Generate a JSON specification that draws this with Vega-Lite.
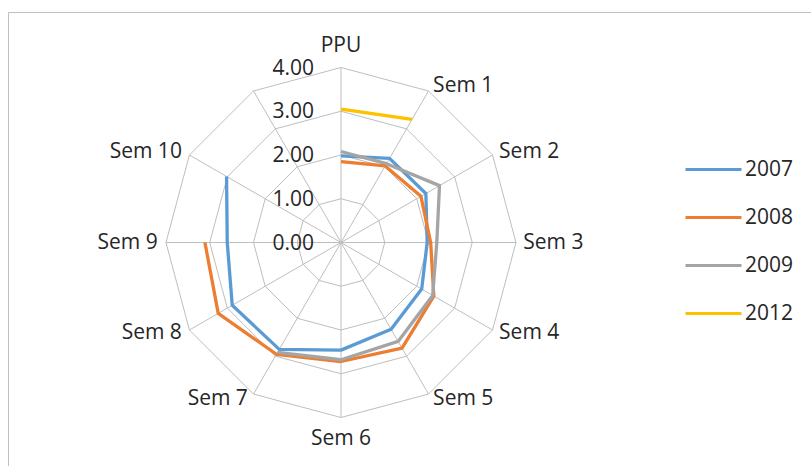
{
  "$schema": "https://vega.github.io/schema/vega-lite/v6.json",
  "width": 810,
  "height": 460,
  "autosize": "none",
  "padding": {"left": 8, "top": 12, "right": 0, "bottom": 0},
  "background": "white",
  "config": {
    "view": {"stroke": "#BFBFBF", "strokeWidth": 1},
    "font": "Open Sans"
  },
  "datasets": {
    "spokes": [
      {"i": 0, "name": "PPU"}, {"i": 1, "name": "Sem 1"}, {"i": 2, "name": "Sem 2"},
      {"i": 3, "name": "Sem 3"}, {"i": 4, "name": "Sem 4"}, {"i": 5, "name": "Sem 5"},
      {"i": 6, "name": "Sem 6"}, {"i": 7, "name": "Sem 7"}, {"i": 8, "name": "Sem 8"},
      {"i": 9, "name": "Sem 9"}, {"i": 10, "name": "Sem 10"}, {"i": 11, "name": ""}
    ],
    "rings": [
      {"level": 1, "i": 0}, {"level": 1, "i": 1}, {"level": 1, "i": 2}, {"level": 1, "i": 3},
      {"level": 1, "i": 4}, {"level": 1, "i": 5}, {"level": 1, "i": 6}, {"level": 1, "i": 7},
      {"level": 1, "i": 8}, {"level": 1, "i": 9}, {"level": 1, "i": 10}, {"level": 1, "i": 11},
      {"level": 2, "i": 0}, {"level": 2, "i": 1}, {"level": 2, "i": 2}, {"level": 2, "i": 3},
      {"level": 2, "i": 4}, {"level": 2, "i": 5}, {"level": 2, "i": 6}, {"level": 2, "i": 7},
      {"level": 2, "i": 8}, {"level": 2, "i": 9}, {"level": 2, "i": 10}, {"level": 2, "i": 11},
      {"level": 3, "i": 0}, {"level": 3, "i": 1}, {"level": 3, "i": 2}, {"level": 3, "i": 3},
      {"level": 3, "i": 4}, {"level": 3, "i": 5}, {"level": 3, "i": 6}, {"level": 3, "i": 7},
      {"level": 3, "i": 8}, {"level": 3, "i": 9}, {"level": 3, "i": 10}, {"level": 3, "i": 11},
      {"level": 4, "i": 0}, {"level": 4, "i": 1}, {"level": 4, "i": 2}, {"level": 4, "i": 3},
      {"level": 4, "i": 4}, {"level": 4, "i": 5}, {"level": 4, "i": 6}, {"level": 4, "i": 7},
      {"level": 4, "i": 8}, {"level": 4, "i": 9}, {"level": 4, "i": 10}, {"level": 4, "i": 11}
    ],
    "ticks": [{"level": 0}, {"level": 1}, {"level": 2}, {"level": 3}, {"level": 4}],
    "scores": [
      {"year": "2007", "i": 0, "value": 1.98},
      {"year": "2007", "i": 1, "value": 2.22},
      {"year": "2007", "i": 2, "value": 2.24},
      {"year": "2007", "i": 3, "value": 1.97},
      {"year": "2007", "i": 4, "value": 2.13},
      {"year": "2007", "i": 5, "value": 2.29},
      {"year": "2007", "i": 6, "value": 2.46},
      {"year": "2007", "i": 7, "value": 2.82},
      {"year": "2007", "i": 8, "value": 2.87},
      {"year": "2007", "i": 9, "value": 2.6},
      {"year": "2007", "i": 10, "value": 3.02},
      {"year": "2008", "i": 0, "value": 1.85},
      {"year": "2008", "i": 1, "value": 2.02},
      {"year": "2008", "i": 2, "value": 2.11},
      {"year": "2008", "i": 3, "value": 2.05},
      {"year": "2008", "i": 4, "value": 2.45},
      {"year": "2008", "i": 5, "value": 2.79},
      {"year": "2008", "i": 6, "value": 2.72},
      {"year": "2008", "i": 7, "value": 2.95},
      {"year": "2008", "i": 8, "value": 3.24},
      {"year": "2008", "i": 9, "value": 3.11},
      {"year": "2009", "i": 0, "value": 2.08},
      {"year": "2009", "i": 1, "value": 2.08},
      {"year": "2009", "i": 2, "value": 2.6},
      {"year": "2009", "i": 3, "value": 2.19},
      {"year": "2009", "i": 4, "value": 2.42},
      {"year": "2009", "i": 5, "value": 2.61},
      {"year": "2009", "i": 6, "value": 2.68},
      {"year": "2009", "i": 7, "value": 2.9},
      {"year": "2012", "i": 0, "value": 3.05},
      {"year": "2012", "i": 1, "value": 3.25}
    ]
  },
  "encoding": {
    "x": {"type": "quantitative", "scale": {"domain": [-7.611, 10.903], "nice": false, "zero": false}, "axis": null},
    "y": {"type": "quantitative", "scale": {"domain": [-5.246, 5.269], "nice": false, "zero": false}, "axis": null}
  },
  "layer": [
    {
      "data": {"name": "rings"},
      "transform": [
        {"calculate": "datum.level * sin(datum.i * PI / 6)", "as": "gx"},
        {"calculate": "datum.level * cos(datum.i * PI / 6)", "as": "gy"}
      ],
      "mark": {"type": "line", "interpolate": "linear-closed", "stroke": "#BEBEBE", "strokeWidth": 1},
      "encoding": {
        "x": {"field": "gx", "type": "quantitative"},
        "y": {"field": "gy", "type": "quantitative"},
        "detail": {"field": "level", "type": "nominal"},
        "order": {"field": "i", "type": "quantitative"}
      }
    },
    {
      "data": {"name": "spokes"},
      "transform": [
        {"calculate": "4 * sin(datum.i * PI / 6)", "as": "sx"},
        {"calculate": "4 * cos(datum.i * PI / 6)", "as": "sy"}
      ],
      "mark": {"type": "rule", "stroke": "#BEBEBE", "strokeWidth": 1},
      "encoding": {
        "x": {"field": "sx", "type": "quantitative"},
        "y": {"field": "sy", "type": "quantitative"},
        "x2": {"datum": 0},
        "y2": {"datum": 0}
      }
    },
    {
      "data": {"name": "scores"},
      "transform": [
        {"calculate": "datum.value * sin(datum.i * PI / 6)", "as": "px"},
        {"calculate": "datum.value * cos(datum.i * PI / 6)", "as": "py"}
      ],
      "mark": {"type": "line", "strokeWidth": 3.3, "strokeJoin": "round"},
      "encoding": {
        "x": {"field": "px", "type": "quantitative"},
        "y": {"field": "py", "type": "quantitative"},
        "order": {"field": "i", "type": "quantitative"},
        "color": {
          "field": "year",
          "type": "nominal",
          "scale": {"domain": ["2007", "2008", "2009", "2012"], "range": ["#5B9BD5", "#ED7D31", "#A5A5A5", "#FFC000"]},
          "legend": {
            "orient": "none",
            "legendX": 676,
            "legendY": 128,
            "title": null,
            "padding": 0,
            "symbolType": "stroke",
            "symbolSize": 3136,
            "symbolStrokeWidth": 3,
            "labelFont": "Open Sans",
            "labelFontSize": 21,
            "labelColor": "#262626",
            "labelOffset": 2,
            "rowPadding": 8
          }
        }
      }
    },
    {
      "data": {"name": "ticks"},
      "mark": {"type": "text", "align": "right", "baseline": "middle", "dx": -27, "dy": 1, "fontSize": 21, "color": "#262626"},
      "encoding": {
        "x": {"datum": 0},
        "y": {"field": "level", "type": "quantitative"},
        "text": {"field": "level", "type": "quantitative", "format": ".2f"}
      }
    },
    {
      "data": {"name": "spokes"},
      "transform": [
        {"filter": "datum.i >= 1 && datum.i <= 5"},
        {"calculate": "4.12 * sin(datum.i * PI / 6)", "as": "lx"},
        {"calculate": "4.12 * cos(datum.i * PI / 6)", "as": "ly"}
      ],
      "mark": {"type": "text", "align": "left", "baseline": "middle", "dx": 2, "fontSize": 21, "color": "#262626"},
      "encoding": {
        "x": {"field": "lx", "type": "quantitative"},
        "y": {"field": "ly", "type": "quantitative"},
        "text": {"field": "name", "type": "nominal"}
      }
    },
    {
      "data": {"name": "spokes"},
      "transform": [
        {"filter": "datum.i >= 7"},
        {"calculate": "4.12 * sin(datum.i * PI / 6)", "as": "lx"},
        {"calculate": "4.12 * cos(datum.i * PI / 6)", "as": "ly"}
      ],
      "mark": {"type": "text", "align": "right", "baseline": "middle", "dx": -3, "fontSize": 21, "color": "#262626"},
      "encoding": {
        "x": {"field": "lx", "type": "quantitative"},
        "y": {"field": "ly", "type": "quantitative"},
        "text": {"field": "name", "type": "nominal"}
      }
    },
    {
      "data": {"name": "spokes"},
      "transform": [
        {"filter": "datum.i == 0 || datum.i == 6"},
        {"calculate": "4.5 * sin(datum.i * PI / 6)", "as": "lx"},
        {"calculate": "4.5 * cos(datum.i * PI / 6)", "as": "ly"}
      ],
      "mark": {"type": "text", "align": "center", "baseline": "middle", "fontSize": 21, "color": "#262626"},
      "encoding": {
        "x": {"field": "lx", "type": "quantitative"},
        "y": {"field": "ly", "type": "quantitative"},
        "text": {"field": "name", "type": "nominal"}
      }
    }
  ]
}
